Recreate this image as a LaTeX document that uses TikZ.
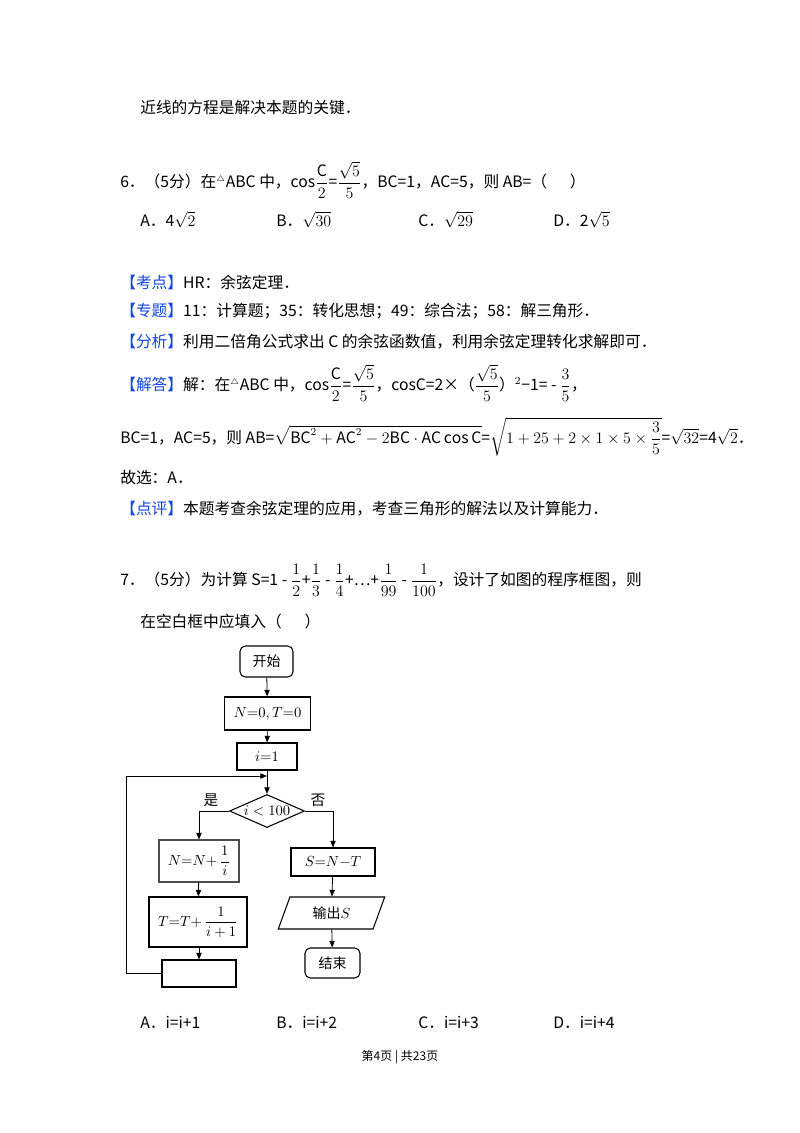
\documentclass[tikz,border=0pt]{standalone}
\usepackage{amsmath}
\usepackage{fontspec}
\setmainfont{Noto Sans CJK SC}
\usetikzlibrary{shapes.geometric,arrows.meta}
\definecolor{kb}{RGB}{20,70,230}
\begin{document}
\begin{tikzpicture}[x=0.75pt,y=-0.75pt,
 t/.style={anchor=west,inner sep=0pt,font=\fontsize{11.8}{14}\selectfont},
 box/.style={draw,thick,minimum height=#1*0.75pt,inner sep=1pt,font=\fontsize{10.5}{12}\selectfont},
 ar/.style={draw,semithick,-{Triangle[length=5pt,width=4pt]}}]
\useasboundingbox (0,0) rectangle (800,1133);
\fill[white] (0,0) rectangle (800,1133);
\node[t] (l1) at (140,108) {近线的方程是解决本题的关键．};
\node[t] (q6) at (120,180) {6．（5分）在$^{\scriptscriptstyle\triangle}$ABC 中，cos$\dfrac{\mathrm C}{2}$=$\dfrac{\sqrt5}{5}$，BC=1，AC=5，则 AB=（\quad\ \ ）};
\node[t] (o6a) at (140,220) {A．4$\sqrt2$};
\node[t] (o6b) at (276,220) {B．$\sqrt{30}$};
\node[t] (o6c) at (418,220) {C．$\sqrt{29}$};
\node[t] (o6d) at (553,220) {D．2$\sqrt5$};
\node[t] (kd) at (120,282) {\textcolor{kb}{【考点】}HR：余弦定理．};
\node[t] (zt) at (120,311) {\textcolor{kb}{【专题】}11：计算题；35：转化思想；49：综合法；58：解三角形．};
\node[t] (fx) at (120,342) {\textcolor{kb}{【分析】}利用二倍角公式求出 C 的余弦函数值，利用余弦定理转化求解即可．};
\node[t] (jd) at (120,383) {\textcolor{kb}{【解答】}解：在$^{\scriptscriptstyle\triangle}$ABC 中，cos$\dfrac{\mathrm C}{2}$=$\dfrac{\sqrt5}{5}$，cosC=2×（$\dfrac{\sqrt5}{5}$）$^2$−1= - $\dfrac35$，};
\node[t] (bc) at (120,437) {BC=1，AC=5，则 AB=$\sqrt{\mathrm{BC}^2+\mathrm{AC}^2-2\mathrm{BC}\cdot\mathrm{AC}\cos\mathrm C}$=$\sqrt{1+25+2\times1\times5\times\dfrac35}$=$\sqrt{32}$=4$\sqrt2$．};
\node[t] (gx) at (120,478) {故选：A．};
\node[t] (dp) at (120,509) {\textcolor{kb}{【点评】}本题考查余弦定理的应用，考查三角形的解法以及计算能力．};
\node[t] (q7) at (120,580) {7．（5分）为计算 S=1 - $\dfrac12$+$\dfrac13$ - $\dfrac14$+…+$\dfrac1{99}$ - $\dfrac1{100}$，设计了如图的程序框图，则};
\node[t] (q7b) at (140,622) {在空白框中应填入（\quad\ \ ）};
% flowchart
\node[box=31,rounded corners=4pt,minimum width=53*0.75pt] (st) at (266.5,661.5) {开始};
\node[box=33,minimum width=86*0.75pt] (init) at (267.5,713.5) {$N{=}0,T{=}0$};
\node[box=27,minimum width=60*0.75pt] (i1) at (267,756.5) {$i{=}1$};
\coordinate (jn) at (267,776);
\node[draw,thick,diamond,aspect=2.3,minimum width=75*0.75pt,minimum height=33*0.75pt,inner sep=0pt,font=\fontsize{10.5}{12}\selectfont] (dm) at (267,811) {$i<100$};
\node[box=42,minimum width=80*0.75pt,draw=black!70] (nb) at (199,861) {$N{=}N{+}\,\dfrac1i$};
\node[box=50,minimum width=98*0.75pt] (tb) at (198,922) {$T{=}T{+}\,\dfrac1{i+1}$};
\node[box=27,minimum width=74*0.75pt] (bl) at (199,973.5) {};
\node[box=28,minimum width=84*0.75pt] (sb) at (333,862) {$S{=}N{-}T$};
\node[draw,thick,trapezium,trapezium left angle=70,trapezium right angle=110,minimum width=72*0.75pt,minimum height=32*0.75pt,inner sep=1pt,font=\fontsize{10.5}{12}\selectfont] (out) at (331.5,913) {输出$S$};
\node[box=30,rounded corners=4pt,minimum width=55*0.75pt] (en) at (332.5,963) {结束};
\node[font=\fontsize{11}{13}\selectfont] (yes) at (211,800) {是};
\node[font=\fontsize{11}{13}\selectfont] (no) at (318,800) {否};
\draw[ar] (st) -- (init);
\draw[ar] (init) -- (i1);
\draw[ar] (i1) -- (dm);
\draw[ar] (dm.west) -| (nb.north);
\draw[ar] (nb) -- (tb);
\draw[ar] (tb.south -| bl.north) -- (bl.north);
\draw[ar] (bl.west) -- (126,973.5) -- (126,776) -- (jn);
\draw[ar] (dm.east) -| (sb.north);
\draw[ar] (sb) -- (out);
\draw[ar] (out) -- (en);
\node[t] (o7a) at (140,1022) {A．i=i+1};
\node[t] (o7b) at (276,1022) {B．i=i+2};
\node[t] (o7c) at (418,1022) {C．i=i+3};
\node[t] (o7d) at (553,1022) {D．i=i+4};
\node[inner sep=0pt,font=\fontsize{9}{11}\selectfont] (ft) at (400,1057) {第4页 | 共23页};
\end{tikzpicture}
\end{document}
